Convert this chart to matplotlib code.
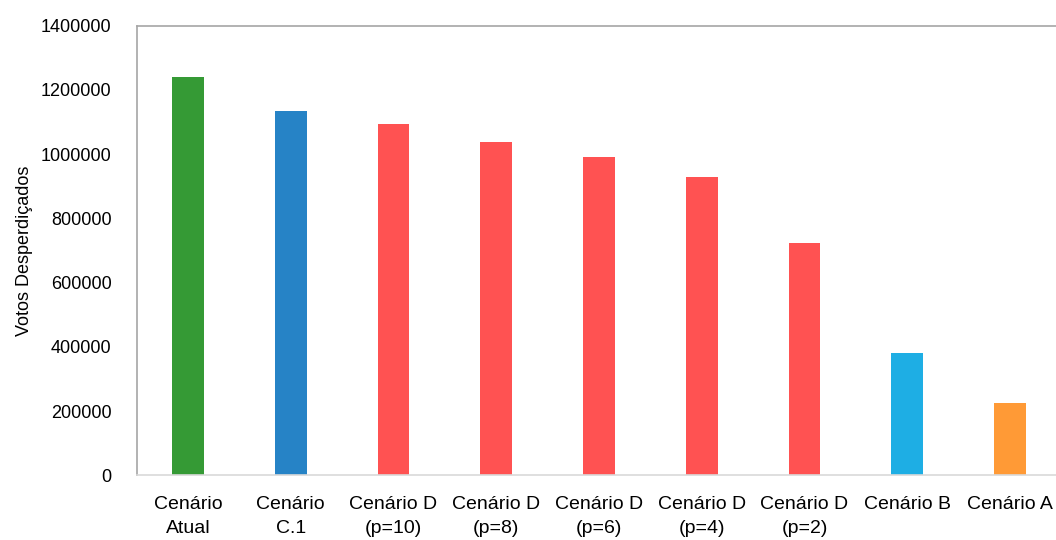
import matplotlib
matplotlib.use("Agg")
import matplotlib.pyplot as plt

categories = ["Cenário\nAtual", "Cenário\nC.1", "Cenário D\n(p=10)", "Cenário D\n(p=8)",
              "Cenário D\n(p=6)", "Cenário D\n(p=4)", "Cenário D\n(p=2)", "Cenário B", "Cenário A"]
values = [1239000, 1134000, 1093000, 1038000, 991000, 928000, 722000, 381000, 226000]
colors = ["#359a35", "#2683c6", "#ff5252", "#ff5252", "#ff5252", "#ff5252", "#ff5252",
          "#1eaee4", "#ff9a36"]
yticks = [0, 200000, 400000, 600000, 800000, 1000000, 1200000, 1400000]

FONT = ["Liberation Sans", "DejaVu Sans"]

fig = plt.figure(figsize=(10.56, 5.4), dpi=100)
ax = fig.add_axes([0.1294, 0.1198, 0.8757, 0.8326])
x = list(range(len(categories)))
ax.bar(x, values, width=0.31, color=colors)
ax.set_xlim(-0.5, len(categories) - 0.5)
ax.set_ylim(0, 1400000)
ax.set_yticks(yticks)
ax.set_yticklabels([str(v) for v in yticks], fontsize=13, family=FONT)
ax.set_xticks(x)
ax.set_xticklabels(categories, fontsize=14, family=FONT, linespacing=1.5)
ax.tick_params(axis="y", length=0, pad=18)
ax.tick_params(axis="x", length=0, pad=15)
ax.set_ylabel("Votos Desperdiçados", fontsize=13, family=FONT, labelpad=6)
for s in ["left", "top", "right"]:
    ax.spines[s].set_color("#a6a6a6")
    ax.spines[s].set_linewidth(1.2)
ax.spines["bottom"].set_color("#d9d9d9")
ax.spines["bottom"].set_linewidth(1.2)
fig.savefig("out.png", dpi=100)
